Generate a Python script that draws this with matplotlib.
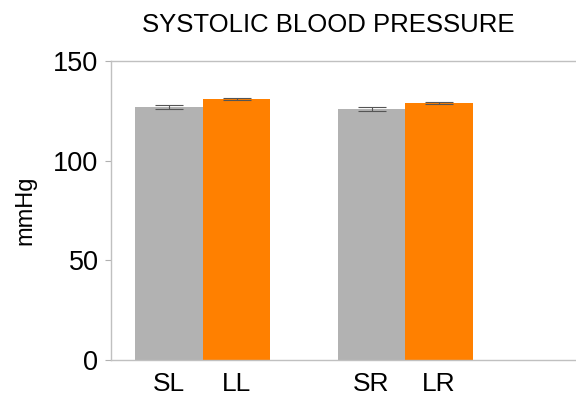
import numpy as np
import matplotlib.pyplot as plt

plt.rcParams['font.family'] = ['Liberation Sans', 'DejaVu Sans']

labels = ['SL', 'LL', 'SR', 'LR']
xpos = [0, 1, 3, 4]
means = [127.1, 130.8, 125.9, 128.9]
errs = [1.0, 0.6, 0.8, 0.7]
colors = ['#b2b2b2', '#ff8000', '#b2b2b2', '#ff8000']

fig = plt.figure(figsize=(5.76, 3.98), dpi=100)
ax = fig.add_axes([0.1927, 0.0955, 0.8073, 0.7513])

ax.bar(xpos, means, width=1.0, color=colors, zorder=2)
ax.errorbar(xpos, means, yerr=errs, fmt='none', ecolor='#555555',
            elinewidth=0.8, capsize=10, capthick=0.8, zorder=3)

ax.set_xlim(-0.86, 6.03)
ax.set_ylim(0, 150)
ax.set_yticks([0, 50, 100, 150])
ax.set_xticks(xpos)
ax.set_xticklabels(labels, fontsize=19)
ax.tick_params(axis='y', labelsize=19.5, length=4, color='#b0b0b0', width=0.8, pad=5)
ax.tick_params(axis='x', length=0, pad=9)

for s in ['left', 'bottom', 'top']:
    ax.spines[s].set_color('#c0c0c0')
    ax.spines[s].set_linewidth(1.0)
ax.spines['right'].set_visible(False)

ax.set_ylabel('mmHg', fontsize=17)
ax.yaxis.set_label_coords(-0.16, 0.5)
fig.text(0.570, 0.937, 'SYSTOLIC BLOOD PRESSURE', ha='center', va='center', fontsize=18.5)

fig.savefig('out.png', dpi=100)
